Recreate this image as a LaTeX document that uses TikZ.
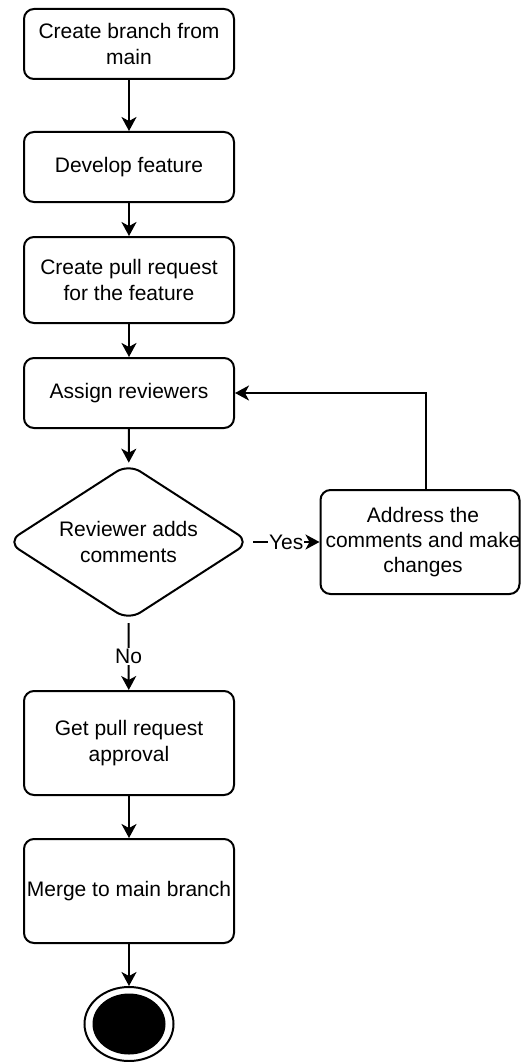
\documentclass[tikz,border=0pt]{standalone}
\usepackage{fontspec}
\setmainfont{Liberation Sans}
\usetikzlibrary{arrows.meta,shapes.geometric}
\begin{document}
\begin{tikzpicture}[x=1pt,y=-1pt,
  every node/.style={font=\fontsize{21pt}{25.2pt}\selectfont},
  stepbox/.style={draw, line width=2pt, rounded corners=10pt, minimum width=210pt,
                  align=center, inner sep=0pt, fill=white},
  decision/.style={draw, diamond, aspect=1.56, line width=2pt, rounded corners=14pt,
                   inner sep=0pt, align=center},
  flow/.style={line width=2pt, -{Stealth[length=14pt,width=15pt,inset=4pt]}},
  edgelabel/.style={fill=white, inner sep=1pt}]
\useasboundingbox (0,0) rectangle (520,1062);

% process steps
\node[stepbox, minimum height=70pt]  (branch)   at (129,44)  {Create branch from\\main};
\node[stepbox, minimum height=70pt]  (develop)  at (129,167) {Develop feature};
\node[stepbox, minimum height=86pt]  (pr)       at (129,280) {Create pull request\\for the feature};
\node[stepbox, minimum height=70pt]  (assign)   at (129,393) {Assign reviewers};
\node[decision, minimum width=243pt, minimum height=157pt] (review) at (128.5,542) {Reviewer adds\\comments};
\node[stepbox, minimum width=199pt, minimum height=104pt] (address) at (420,542) {};
\node[align=center, inner sep=0pt] (addresstext) at (423,542) {Address the\\comments and make\\changes};
\node[stepbox, minimum height=104pt] (approval) at (129,743) {Get pull request\\approval};
\node[stepbox, minimum height=104pt] (merge)    at (129,891) {Merge to main branch};

% final state
\node[draw, ellipse, line width=2pt, fill=white, minimum width=89pt, minimum height=74pt, inner sep=0pt] (final) at (129,1024) {};
\node[ellipse, fill=black, minimum width=73pt, minimum height=61pt, inner sep=0pt] (finaldot) at (final.center) {};

% connectors
\coordinate (loopstart) at (426,542);
\draw[flow] (branch) -- (develop);
\draw[flow] (develop) -- (pr);
\draw[flow] (pr) -- (assign);
\draw[flow] (assign) -- (review);
\draw[flow] ([xshift=2pt]review.east) -- node[edgelabel] {Yes} (address.west);
\draw[flow] (address.north -| loopstart) |- (assign.east);
\draw[flow] ([yshift=-1.5pt]review.south) -- node[edgelabel] {No} (approval);
\draw[flow] (approval) -- (merge);
\draw[flow] (merge) -- (final);
\end{tikzpicture}
\end{document}
